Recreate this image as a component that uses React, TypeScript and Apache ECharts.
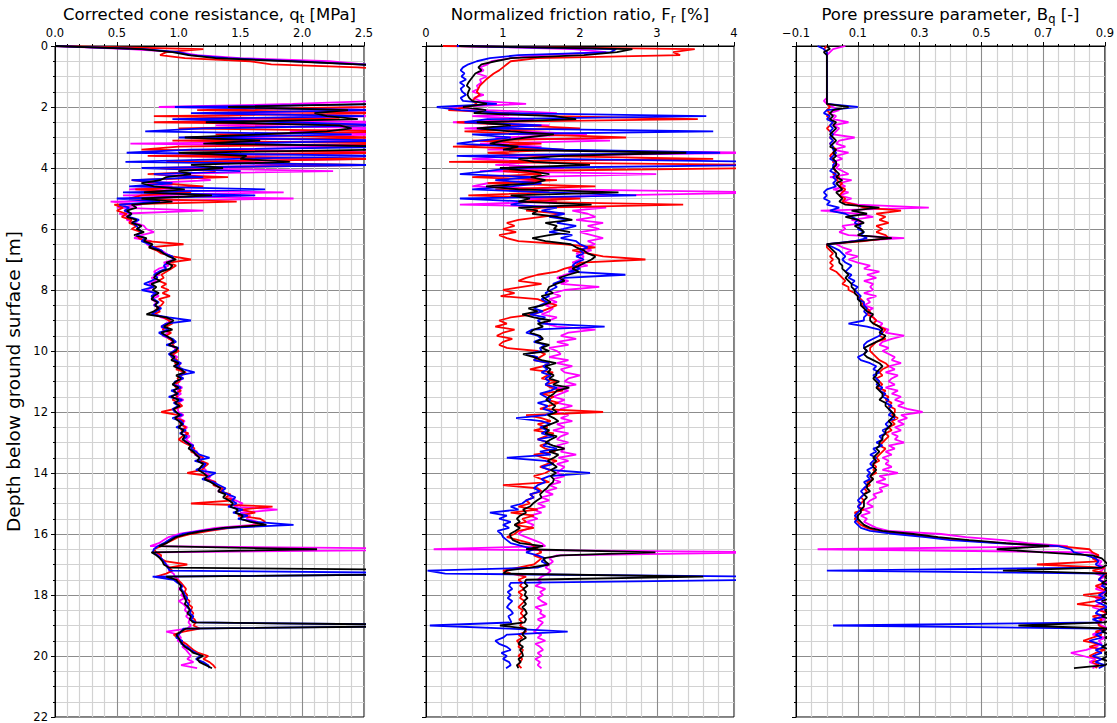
import React, { useEffect, useRef } from "react";
import * as echarts from "echarts";

// Every profile is sampled every 0.1 m, starting at the ground surface (0.0 m).
const DEPTH_STEP_M = 0.1;

// ---- Corrected cone resistance q_t [MPa] ----
const qtMagenta = [
  0.00, 0.60, 1.00, 1.15, 1.50, 2.22, 2.50, 2.90, 3.20, 3.30,
  3.40, 3.50, 3.50, 3.60, 3.60, 3.50, 3.40, 3.30, 2.60, 1.92,
  0.84, 2.80, 1.20, 2.60, 1.00, 2.80, 1.30, 2.70, 1.90, 2.80,
  1.10, 2.90, 0.61, 2.40, 1.30, 2.80, 0.80, 2.50, 1.20, 1.95,
  0.90, 2.25, 0.80, 1.10, 1.26, 0.75, 0.95, 0.60, 1.85, 0.55,
  1.93, 0.45, 0.70, 0.50, 1.20, 0.52, 0.60, 0.58, 0.65, 0.72,
  0.74, 0.80, 0.70, 0.64, 0.78, 0.74, 0.80, 0.86, 0.90, 0.94,
  0.96, 0.88, 0.92, 0.84, 0.80, 0.85, 0.78, 0.82, 0.76, 0.80,
  0.74, 0.80, 0.84, 0.78, 0.82, 0.80, 0.85, 0.80, 0.82, 0.86,
  0.94, 0.90, 0.86, 0.88, 0.92, 0.87, 0.93, 0.95, 0.93, 0.97,
  0.97, 0.95, 0.99, 0.96, 1.02, 0.98, 1.01, 1.04, 1.00, 1.03,
  1.00, 0.98, 1.03, 0.99, 1.02, 0.98, 1.04, 1.00, 1.02, 0.99,
  1.00, 1.04, 1.00, 1.05, 1.02, 1.07, 1.04, 1.06, 1.09, 1.06,
  1.09, 1.12, 1.10, 1.15, 1.13, 1.18, 1.16, 1.21, 1.19, 1.22,
  1.22, 1.26, 1.24, 1.30, 1.29, 1.34, 1.32, 1.40, 1.42, 1.46,
  1.52, 1.45, 1.80, 1.50, 1.58, 1.55, 1.64, 1.60, 1.30, 1.15,
  1.00, 0.92, 0.88, 0.84, 0.77, 3.50, 0.82, 0.84, 0.86, 0.88,
  0.90, 0.93, 0.92, 0.96, 0.97, 1.00, 1.01, 1.03, 1.00, 1.04,
  1.02, 1.05, 1.00, 1.04, 1.06, 1.05, 1.08, 1.06, 1.09, 1.08,
  1.10, 1.07, 0.90, 1.00, 1.02, 0.99, 1.05, 1.03, 1.06, 1.08,
  1.10, 1.07, 1.12, 1.02, 1.15,
];
const qtRed = [
  0.00, 1.20, 0.90, 0.85, 1.05, 1.58, 1.75, 2.45, 2.80, 3.10,
  3.30, 3.40, 3.50, 3.50, 3.60, 3.50, 3.40, 3.30, 3.00, 2.70,
  2.50, 1.15, 2.70, 0.80, 2.30, 0.80, 2.60, 1.00, 2.80, 1.30,
  2.70, 0.95, 2.90, 1.00, 0.70, 2.75, 0.75, 2.60, 0.90, 2.60,
  0.85, 1.30, 0.75, 1.40, 0.62, 0.85, 1.20, 0.65, 1.10, 0.70,
  0.60, 1.47, 0.48, 0.55, 0.50, 0.58, 0.54, 0.62, 0.60, 0.66,
  0.62, 0.70, 0.66, 0.68, 0.74, 1.04, 0.76, 0.82, 0.86, 0.95,
  1.10, 0.92, 0.98, 0.94, 0.90, 0.86, 0.88, 0.84, 0.90, 0.86,
  0.92, 0.87, 0.93, 0.84, 0.88, 0.86, 0.82, 0.85, 0.80, 0.88,
  0.92, 0.95, 0.90, 0.87, 0.94, 0.90, 0.92, 0.97, 0.95, 0.98,
  1.00, 0.96, 0.94, 0.99, 0.97, 1.01, 0.98, 1.06, 1.02, 0.99,
  1.01, 0.96, 0.98, 1.02, 0.97, 0.99, 0.95, 1.00, 1.03, 0.97,
  0.86, 1.00, 0.98, 1.04, 1.01, 1.06, 1.02, 1.08, 1.03, 1.00,
  1.04, 1.09, 1.13, 1.10, 1.16, 1.20, 1.18, 1.24, 1.21, 1.19,
  1.07, 1.25, 1.22, 1.30, 1.28, 1.36, 1.34, 1.42, 1.38, 1.45,
  1.10, 1.76, 1.50, 1.62, 1.48, 1.66, 1.70, 1.66, 1.42, 1.25,
  1.10, 1.00, 0.95, 0.90, 0.86, 0.80, 0.82, 0.86, 0.85, 0.90,
  1.07, 0.92, 0.95, 0.90, 0.82, 0.99, 1.02, 1.04, 1.06, 1.05,
  1.07, 1.06, 1.09, 1.08, 1.11, 1.10, 1.12, 1.10, 1.13, 1.14,
  1.12, 1.17, 1.04, 0.96, 0.99, 1.02, 1.06, 1.09, 1.12, 1.16,
  1.24, 1.20, 1.25, 1.28, 1.30,
];
const qtBlue = [
  0.00, 0.72, 1.00, 1.10, 1.40, 1.95, 2.45, 2.90, 3.20, 3.40,
  3.50, 3.60, 3.60, 3.70, 3.70, 3.60, 3.50, 3.40, 3.20, 2.80,
  0.97, 2.60, 1.10, 2.50, 0.95, 1.90, 2.70, 1.20, 0.73, 2.40,
  1.00, 2.80, 1.30, 2.90, 1.10, 0.58, 2.70, 1.45, 0.57, 2.60,
  0.70, 1.50, 0.80, 1.20, 0.62, 0.95, 0.60, 1.70, 0.55, 1.62,
  0.50, 0.85, 0.52, 0.60, 0.56, 0.62, 0.60, 0.68, 0.63, 0.66,
  0.68, 0.70, 0.66, 0.73, 0.70, 0.76, 0.80, 0.86, 0.88, 0.95,
  0.96, 0.92, 0.88, 0.90, 0.84, 0.80, 0.83, 0.78, 0.72, 0.80,
  0.70, 0.82, 0.78, 0.80, 0.84, 0.80, 0.86, 0.82, 0.78, 0.92,
  1.10, 0.90, 0.86, 0.92, 0.84, 0.88, 0.95, 0.98, 0.90, 1.00,
  0.96, 0.92, 0.95, 0.97, 1.02, 0.98, 1.04, 1.13, 1.00, 1.04,
  0.97, 0.96, 1.02, 0.94, 1.00, 0.92, 1.03, 0.96, 1.00, 0.95,
  0.97, 1.03, 0.95, 1.02, 1.04, 0.98, 1.06, 1.01, 1.07, 1.04,
  1.06, 1.12, 1.10, 1.14, 1.17, 1.25, 1.13, 1.22, 1.20, 1.14,
  1.30, 1.25, 1.19, 1.28, 1.33, 1.38, 1.35, 1.40, 1.46, 1.43,
  1.47, 1.40, 1.52, 1.44, 1.56, 1.48, 1.62, 1.93, 1.40, 1.18,
  1.03, 0.96, 0.92, 0.88, 0.83, 0.80, 0.79, 0.83, 0.86, 0.88,
  0.90, 0.91, 0.93, 3.50, 0.79, 0.96, 0.99, 1.03, 1.02, 1.04,
  1.05, 1.07, 1.06, 1.08, 1.07, 1.10, 1.09, 1.12, 1.10, 1.14,
  3.50, 1.04, 1.02, 1.00, 0.98, 1.03, 1.02, 1.07, 1.10, 1.14,
  1.18, 1.14, 1.20, 1.24, 1.25,
];
const qtBlack = [
  0.00, 0.70, 0.95, 1.08, 1.30, 1.90, 2.45, 2.90, 3.20, 3.40,
  3.50, 3.60, 3.60, 3.70, 3.70, 3.60, 3.50, 3.40, 3.10, 2.60,
  1.40, 2.37, 2.10, 2.20, 2.45, 1.22, 2.30, 2.40, 2.20, 1.66,
  1.05, 1.66, 1.20, 2.80, 2.60, 1.00, 1.55, 1.50, 1.90, 1.10,
  1.36, 1.00, 1.10, 0.90, 0.85, 0.70, 0.80, 1.05, 0.72, 1.27,
  0.70, 0.95, 0.62, 0.66, 0.58, 0.62, 0.58, 0.66, 0.62, 0.70,
  0.66, 0.72, 0.64, 0.74, 0.72, 0.79, 0.76, 0.84, 0.88, 0.92,
  0.98, 0.90, 0.95, 0.93, 0.86, 0.82, 0.80, 0.85, 0.78, 0.82,
  0.79, 0.84, 0.80, 0.78, 0.83, 0.81, 0.84, 0.80, 0.74, 0.90,
  0.96, 0.92, 0.88, 0.95, 0.86, 0.90, 0.94, 0.96, 0.92, 0.99,
  0.98, 0.93, 0.97, 0.94, 1.00, 0.96, 1.02, 1.05, 0.98, 1.02,
  0.98, 0.95, 1.00, 0.96, 0.99, 0.94, 1.00, 0.97, 1.01, 0.96,
  0.98, 1.01, 0.97, 1.00, 1.03, 1.00, 1.04, 1.02, 1.05, 1.03,
  1.07, 1.10, 1.08, 1.12, 1.14, 1.17, 1.15, 1.20, 1.18, 1.16,
  1.20, 1.23, 1.21, 1.26, 1.30, 1.34, 1.32, 1.38, 1.36, 1.41,
  1.44, 1.42, 1.48, 1.46, 1.52, 1.50, 1.58, 1.71, 1.36, 1.20,
  1.07, 0.98, 0.94, 0.90, 0.84, 2.12, 0.78, 0.82, 0.85, 0.87,
  0.88, 0.92, 3.50, 3.50, 0.90, 0.98, 1.00, 1.02, 1.01, 1.03,
  1.04, 1.05, 1.06, 1.05, 1.08, 1.09, 1.07, 1.10, 1.09, 1.12,
  3.50, 1.06, 1.02, 0.98, 1.00, 1.01, 1.03, 1.05, 1.09, 1.12,
  1.20, 1.15, 1.17, 1.22, 1.27,
];

// ---- Normalized friction ratio F_r [%] ----
const frMagenta = [
  0.40, 1.91, 2.34, 1.50, 1.10, 0.85, 0.80, 0.70, 0.75, 0.66,
  0.79, 0.70, 0.72, 0.66, 0.68, 0.60, 0.75, 0.62, 0.70, 1.30,
  0.30, 0.80, 1.70, 0.60, 1.40, 0.35, 1.60, 0.50, 1.30, 2.09,
  0.90, 2.39, 0.70, 1.50, 0.80, 4.50, 1.20, 0.60, 1.40, 0.90,
  1.80, 0.70, 2.99, 1.20, 1.50, 0.80, 0.60, 1.70, 4.50, 2.39,
  1.30, 1.70, 0.44, 2.34, 1.90, 2.10, 2.20, 1.95, 2.30, 2.10,
  2.25, 2.00, 2.15, 2.30, 2.10, 2.20, 2.05, 2.15, 1.95, 2.05,
  2.00, 1.90, 2.10, 1.85, 1.95, 1.80, 1.70, 1.85, 1.75, 2.25,
  1.80, 1.65, 1.75, 1.60, 1.70, 1.55, 1.65, 1.60, 1.50, 1.70,
  1.60, 1.55, 1.70, 2.20, 1.85, 1.75, 1.95, 1.70, 1.85, 1.60,
  1.70, 1.75, 1.60, 1.85, 1.70, 1.90, 1.75, 1.80, 2.00, 1.85,
  1.80, 1.95, 1.70, 1.85, 1.75, 1.65, 1.80, 1.70, 1.90, 1.75,
  1.70, 1.85, 1.75, 1.90, 1.70, 1.80, 1.65, 1.85, 1.75, 1.70,
  1.85, 1.70, 1.80, 1.75, 1.95, 1.72, 1.85, 1.70, 1.80, 1.75,
  1.70, 1.80, 1.65, 1.75, 1.60, 1.70, 1.55, 1.65, 1.50, 1.60,
  1.45, 1.55, 1.40, 1.50, 1.35, 1.45, 1.30, 1.40, 1.35, 1.25,
  1.20, 1.30, 1.40, 1.50, 1.55, 0.10, 4.50, 1.70, 1.60, 1.65,
  1.60, 1.55, 1.62, 1.58, 1.50, 1.45, 1.50, 1.42, 1.55, 1.48,
  1.52, 1.45, 1.50, 1.57, 1.42, 1.50, 1.48, 1.55, 1.45, 1.52,
  1.48, 1.45, 1.40, 1.50, 1.45, 1.55, 1.42, 1.48, 1.52, 1.45,
  1.50, 1.42, 1.48, 1.45, 1.50,
];
const frRed = [
  0.22, 3.49, 3.21, 3.30, 1.45, 1.10, 1.05, 1.00, 0.95, 0.88,
  0.83, 0.78, 0.74, 0.70, 0.68, 0.66, 0.70, 0.64, 0.60, 0.66,
  0.55, 0.29, 1.10, 1.70, 3.53, 0.40, 1.20, 2.00, 0.50, 1.40,
  2.60, 0.60, 1.50, 0.35, 1.80, 0.80, 1.40, 3.73, 0.30, 4.50,
  4.50, 1.00, 1.50, 0.60, 1.70, 0.80, 2.20, 0.90, 1.60, 0.55,
  2.00, 1.20, 3.34, 1.50, 1.30, 1.80, 1.50, 1.20, 1.05, 1.15,
  1.00, 1.17, 0.95, 1.05, 1.20, 1.80, 2.20, 1.90, 2.10, 2.30,
  2.85, 2.00, 1.95, 1.80, 1.70, 1.45, 1.30, 1.20, 1.50, 1.25,
  1.00, 1.15, 0.97, 1.45, 1.55, 1.70, 1.60, 1.50, 1.40, 1.10,
  0.95, 1.05, 0.90, 1.15, 1.00, 0.92, 1.12, 1.00, 0.95, 1.05,
  1.45, 1.55, 1.48, 1.40, 1.60, 1.52, 1.35, 1.65, 1.58, 1.50,
  1.70, 1.55, 1.62, 1.78, 1.50, 1.66, 1.58, 1.72, 1.60, 1.48,
  2.30, 1.30, 1.50, 1.62, 1.45, 1.58, 1.40, 1.66, 1.55, 1.45,
  1.60, 1.48, 1.55, 1.68, 1.40, 1.52, 1.70, 1.58, 1.48, 1.62,
  1.55, 1.40, 1.50, 1.60, 1.00, 1.45, 1.50, 1.35, 1.40, 1.30,
  1.35, 1.20, 1.45, 1.10, 1.40, 1.25, 1.30, 1.15, 1.40, 1.20,
  1.15, 1.05, 1.20, 1.35, 1.40, 1.45, 1.50, 1.40, 1.50, 1.45,
  1.40, 1.20, 1.00, 1.10, 1.30, 1.20, 1.25, 1.22, 1.28, 1.20,
  1.25, 1.22, 1.28, 1.24, 1.20, 1.26, 1.23, 1.27, 1.21, 1.25,
  1.22, 1.28, 1.30, 1.20, 1.25, 1.18, 1.22, 1.20, 1.26, 1.24,
  1.20, 1.25, 1.22, 1.20, 1.24,
];
const frBlue = [
  0.40, 2.47, 2.40, 1.20, 0.83, 0.66, 0.55, 0.48, 0.45, 0.50,
  0.46, 0.52, 0.44, 0.50, 0.45, 0.47, 0.52, 0.45, 0.48, 0.92,
  0.14, 0.45, 1.00, 3.64, 0.80, 0.50, 1.50, 0.70, 3.73, 0.60,
  1.10, 0.70, 0.40, 1.20, 1.79, 3.82, 0.40, 1.60, 4.50, 4.50,
  1.10, 0.80, 0.44, 1.40, 0.90, 1.50, 1.10, 0.60, 1.60, 2.73,
  0.44, 1.30, 1.10, 1.70, 1.50, 1.80, 1.60, 1.85, 1.70, 1.95,
  1.78, 1.60, 1.90, 1.75, 1.95, 2.00, 2.10, 2.00, 2.05, 1.95,
  2.05, 1.95, 1.90, 2.00, 1.85, 2.59, 1.80, 1.75, 1.65, 1.70,
  1.62, 1.55, 1.60, 1.50, 1.58, 1.48, 1.40, 1.52, 1.35, 1.55,
  1.45, 1.50, 2.32, 1.38, 1.30, 1.45, 1.50, 1.40, 1.55, 1.48,
  1.50, 1.30, 1.45, 1.40, 1.60, 1.52, 1.58, 1.50, 1.62, 1.55,
  1.60, 1.55, 1.70, 1.62, 1.48, 1.55, 1.62, 1.45, 1.58, 1.52,
  1.65, 1.55, 1.17, 1.50, 1.62, 1.48, 1.58, 1.50, 1.66, 1.45,
  1.60, 1.52, 1.70, 1.48, 1.62, 1.05, 1.55, 1.66, 1.50, 1.60,
  2.13, 1.60, 1.50, 1.55, 1.45, 1.40, 1.48, 1.35, 1.40, 1.30,
  1.25, 1.10, 1.20, 0.83, 1.05, 0.95, 1.10, 1.00, 1.08, 0.93,
  0.98, 1.00, 1.05, 1.10, 1.25, 1.40, 1.30, 1.45, 1.55, 1.50,
  1.58, 1.45, 0.02, 0.25, 4.50, 4.50, 1.10, 1.08, 1.12, 1.06,
  1.10, 1.06, 1.12, 1.08, 1.05, 1.10, 1.13, 1.07, 1.09, 1.11,
  0.05, 1.08, 1.84, 1.05, 1.00, 0.90, 0.95, 1.05, 1.10, 0.98,
  1.05, 1.00, 1.08, 1.10, 1.04,
];
const frBlack = [
  0.43, 2.68, 2.48, 2.05, 1.10, 0.90, 0.72, 0.68, 0.72, 0.64,
  0.61, 0.58, 0.55, 0.53, 0.57, 0.55, 0.54, 0.56, 0.60, 0.79,
  0.48, 0.78, 0.62, 1.66, 1.95, 0.66, 1.10, 0.66, 1.10, 1.66,
  1.30, 1.00, 0.83, 1.20, 1.00, 3.38, 1.78, 1.20, 1.40, 2.13,
  0.96, 1.35, 1.60, 1.36, 1.55, 1.40, 0.78, 1.20, 2.50, 1.10,
  1.35, 1.20, 2.15, 1.20, 1.45, 1.38, 1.70, 1.90, 1.55, 1.70,
  1.66, 1.87, 1.60, 1.38, 1.55, 1.88, 1.95, 2.05, 2.10, 2.20,
  2.15, 2.07, 1.99, 1.90, 1.99, 1.85, 1.73, 1.80, 1.69, 1.60,
  1.58, 1.65, 1.50, 1.56, 1.62, 1.52, 1.33, 1.45, 1.25, 1.40,
  1.62, 1.45, 1.52, 1.40, 1.35, 1.48, 1.52, 1.42, 1.60, 1.50,
  1.60, 1.26, 1.40, 1.50, 1.69, 1.55, 1.62, 1.58, 1.66, 1.60,
  1.73, 1.65, 1.86, 1.70, 1.66, 1.60, 1.56, 1.62, 1.68, 1.64,
  1.70, 1.58, 1.66, 1.72, 1.62, 1.52, 1.60, 1.55, 1.70, 1.62,
  1.55, 1.65, 1.80, 1.60, 1.72, 1.66, 1.58, 1.64, 1.70, 1.62,
  1.69, 1.62, 1.66, 1.65, 1.60, 1.57, 1.52, 1.48, 1.50, 1.44,
  1.39, 1.35, 1.26, 1.30, 1.22, 1.18, 1.22, 1.15, 1.22, 1.16,
  1.09, 1.10, 1.13, 1.22, 1.52, 1.30, 2.98, 1.75, 1.52, 1.55,
  1.60, 1.35, 1.05, 1.00, 3.60, 1.30, 1.28, 1.32, 1.26, 1.30,
  1.28, 1.32, 1.27, 1.30, 1.25, 1.29, 1.31, 1.27, 1.30, 1.28,
  0.96, 1.30, 1.28, 1.25, 1.30, 1.23, 1.20, 1.26, 1.22, 1.25,
  1.26, 1.20, 1.23, 1.18, 1.20,
];

// ---- Pore pressure parameter B_q [-] ----
const bqMagenta = [
  0.06, 0.02, 0.01, 0.00, 0.00, 0.00, 0.00, 0.00, 0.00, 0.00,
  0.00, 0.00, 0.00, 0.00, 0.00, 0.00, 0.00, 0.00, -0.01, 0.00,
  0.02, 0.04, 0.01, 0.03, 0.02, 0.07, 0.02, 0.04, 0.03, 0.02,
  0.09, 0.04, 0.03, 0.06, 0.02, 0.07, 0.03, 0.05, 0.02, 0.04,
  0.03, 0.05, 0.07, 0.01, 0.08, 0.04, 0.06, 0.02, 0.07, 0.04,
  0.08, 0.05, 0.10, 0.33, -0.02, 0.10, 0.15, 0.08, 0.12, 0.05,
  0.06, 0.04, 0.07, 0.25, 0.08, 0.03, 0.05, 0.08, 0.06, 0.10,
  0.07, 0.10, 0.14, 0.12, 0.17, 0.13, 0.16, 0.12, 0.15, 0.14,
  0.15, 0.12, 0.16, 0.13, 0.14, 0.12, 0.15, 0.13, 0.14, 0.15,
  0.16, 0.18, 0.17, 0.20, 0.19, 0.25, 0.21, 0.18, 0.17, 0.20,
  0.18, 0.20, 0.22, 0.21, 0.24, 0.20, 0.22, 0.19, 0.23, 0.21,
  0.20, 0.22, 0.19, 0.23, 0.21, 0.24, 0.22, 0.25, 0.23, 0.26,
  0.31, 0.24, 0.26, 0.23, 0.25, 0.22, 0.24, 0.21, 0.23, 0.22,
  0.25, 0.20, 0.22, 0.19, 0.21, 0.18, 0.20, 0.19, 0.21, 0.18,
  0.23, 0.17, 0.19, 0.16, 0.20, 0.17, 0.18, 0.15, 0.16, 0.14,
  0.13, 0.15, 0.12, 0.14, 0.11, 0.13, 0.12, 0.14, 0.16, 0.20,
  0.37, 0.45, 0.57, 0.65, 0.78, -0.03, 0.85, 0.88, 0.87, 0.89,
  0.88, 0.90, 0.89, 0.87, 0.90, 0.88, 0.91, 0.89, 0.87, 0.90,
  0.89, 0.87, 0.90, 0.88, 0.86, 0.89, 0.91, 0.88, 0.90, 0.87,
  0.89, 0.91, 0.88, 0.86, 0.90, 0.88, 0.89, 0.87, 0.84, 0.79,
  0.83, 0.87, 0.85, 0.88, 0.86,
];
const bqRed = [
  0.00, -0.01, 0.00, 0.00, 0.00, 0.00, 0.00, 0.00, 0.00, 0.00,
  0.00, 0.00, 0.00, 0.00, 0.00, 0.00, 0.00, 0.00, 0.00, 0.00,
  0.01, 0.00, 0.01, 0.00, 0.01, 0.02, 0.01, 0.00, 0.01, 0.02,
  0.01, 0.02, 0.01, 0.02, 0.03, 0.02, 0.01, 0.02, 0.02, 0.03,
  0.02, 0.03, 0.02, 0.04, 0.03, 0.05, 0.04, 0.06, 0.05, 0.04,
  0.06, 0.05, 0.09, 0.12, 0.24, 0.16, 0.19, 0.17, 0.20, 0.16,
  0.18, 0.16, 0.19, 0.20, 0.12, 0.00, 0.00, 0.01, 0.02, 0.01,
  0.02, 0.01, 0.02, 0.01, 0.03, 0.04, 0.05, 0.06, 0.05, 0.07,
  0.07, 0.09, 0.10, 0.11, 0.12, 0.11, 0.13, 0.14, 0.13, 0.15,
  0.16, 0.15, 0.17, 0.19, 0.18, 0.17, 0.19, 0.16, 0.15, 0.14,
  0.14, 0.15, 0.16, 0.17, 0.19, 0.20, 0.18, 0.17, 0.18, 0.16,
  0.17, 0.18, 0.16, 0.19, 0.18, 0.20, 0.19, 0.21, 0.20, 0.22,
  0.22, 0.21, 0.23, 0.21, 0.22, 0.20, 0.21, 0.19, 0.20, 0.19,
  0.18, 0.17, 0.19, 0.18, 0.17, 0.16, 0.17, 0.15, 0.16, 0.15,
  0.16, 0.14, 0.15, 0.13, 0.14, 0.12, 0.13, 0.12, 0.11, 0.12,
  0.11, 0.10, 0.12, 0.09, 0.10, 0.09, 0.10, 0.11, 0.13, 0.16,
  0.25, 0.34, 0.44, 0.56, 0.75, 0.85, 0.86, 0.88, 0.86, 0.88,
  0.68, 0.90, 0.86, 0.91, 0.89, 0.88, 0.90, 0.87, 0.89, 0.91,
  0.83, 0.89, 0.87, 0.81, 0.90, 0.88, 0.91, 0.86, 0.89, 0.88,
  0.88, 0.90, 0.87, 0.89, 0.86, 0.83, 0.88, 0.85, 0.90, 0.87,
  0.85, 0.89, 0.86, 0.88, 0.87,
];
const bqBlue = [
  -0.03, -0.01, 0.00, 0.00, 0.00, 0.00, 0.00, 0.00, 0.00, 0.00,
  0.00, 0.00, 0.00, 0.00, 0.00, 0.00, 0.00, 0.00, 0.00, 0.00,
  0.10, 0.00, -0.01, 0.01, 0.00, 0.02, 0.01, 0.02, 0.01, 0.02,
  0.01, 0.02, 0.01, 0.02, 0.02, 0.03, 0.02, 0.01, 0.03, 0.02,
  0.02, 0.01, 0.03, 0.02, 0.03, 0.02, 0.03, 0.00, -0.01, 0.00,
  -0.01, 0.01, 0.00, 0.04, 0.01, 0.06, 0.08, 0.10, 0.09, 0.11,
  0.10, 0.12, 0.11, 0.13, 0.09, 0.00, 0.02, 0.04, 0.05, 0.06,
  0.05, 0.06, 0.08, 0.07, 0.06, 0.08, 0.07, 0.09, 0.08, 0.10,
  0.09, 0.10, 0.11, 0.10, 0.12, 0.12, 0.13, 0.12, 0.13, 0.12,
  0.12, 0.07, 0.13, 0.17, 0.18, 0.17, 0.15, 0.13, 0.12, 0.12,
  0.13, 0.12, 0.10, 0.11, 0.14, 0.16, 0.15, 0.17, 0.15, 0.16,
  0.17, 0.16, 0.18, 0.17, 0.19, 0.18, 0.20, 0.19, 0.21, 0.20,
  0.21, 0.20, 0.22, 0.20, 0.19, 0.20, 0.18, 0.19, 0.17, 0.18,
  0.16, 0.18, 0.15, 0.16, 0.14, 0.16, 0.15, 0.14, 0.15, 0.13,
  0.14, 0.13, 0.14, 0.12, 0.13, 0.12, 0.11, 0.12, 0.11, 0.10,
  0.11, 0.10, 0.11, 0.10, 0.09, 0.10, 0.09, 0.10, 0.11, 0.14,
  0.22, 0.32, 0.40, 0.55, 0.75, 0.79, 0.80, 0.84, 0.87, 0.88,
  0.87, 0.89, 0.00, 0.90, 0.89, 0.88, 0.90, 0.89, 0.91, 0.90,
  0.88, 0.90, 0.87, 0.89, 0.91, 0.88, 0.87, 0.90, 0.86, 0.89,
  0.02, 0.88, 0.90, 0.87, 0.89, 0.85, 0.88, 0.90, 0.87, 0.89,
  0.86, 0.89, 0.87, 0.90, 0.88,
];
const bqBlack = [
  0.00, 0.01, -0.01, 0.00, 0.00, 0.00, 0.00, 0.00, 0.00, 0.00,
  0.00, 0.00, 0.00, 0.00, 0.00, 0.00, 0.00, 0.00, 0.00, 0.00,
  0.07, 0.02, 0.01, 0.02, 0.01, 0.03, 0.02, 0.03, 0.02, 0.01,
  0.02, 0.03, 0.02, 0.01, 0.03, 0.02, 0.03, 0.02, 0.03, 0.03,
  0.02, 0.03, 0.04, 0.03, 0.05, 0.03, 0.04, 0.05, 0.03, 0.04,
  0.05, 0.04, 0.06, 0.17, 0.08, 0.13, 0.06, 0.10, 0.12, 0.09,
  0.11, 0.12, 0.10, 0.21, 0.10, 0.00, 0.01, 0.02, 0.03, 0.03,
  0.04, 0.04, 0.05, 0.05, 0.06, 0.07, 0.06, 0.07, 0.08, 0.08,
  0.09, 0.09, 0.10, 0.10, 0.11, 0.11, 0.12, 0.13, 0.15, 0.14,
  0.14, 0.15, 0.17, 0.18, 0.17, 0.19, 0.18, 0.16, 0.14, 0.12,
  0.13, 0.12, 0.13, 0.15, 0.17, 0.18, 0.17, 0.16, 0.16, 0.15,
  0.16, 0.17, 0.16, 0.17, 0.18, 0.18, 0.17, 0.19, 0.19, 0.20,
  0.21, 0.22, 0.21, 0.20, 0.21, 0.20, 0.19, 0.19, 0.18, 0.18,
  0.17, 0.17, 0.16, 0.17, 0.16, 0.15, 0.16, 0.15, 0.15, 0.16,
  0.15, 0.14, 0.15, 0.14, 0.13, 0.13, 0.14, 0.12, 0.13, 0.12,
  0.12, 0.12, 0.11, 0.11, 0.10, 0.10, 0.11, 0.12, 0.14, 0.18,
  0.28, 0.36, 0.46, 0.58, 0.72, 0.55, 0.70, 0.86, 0.89, 0.90,
  0.91, 0.89, 0.57, 0.92, 0.90, 0.91, 0.89, 0.92, 0.90, 0.91,
  0.90, 0.92, 0.89, 0.91, 0.93, 0.90, 0.91, 0.89, 0.92, 0.90,
  0.62, 0.91, 0.89, 0.92, 0.90, 0.93, 0.91, 0.89, 0.92, 0.90,
  0.91, 0.89, 0.92, 0.90, 0.80,
];

// Depth axis ticks and limits [m]
const DEPTH_MIN = 0;
const DEPTH_MAX = 22;
const DEPTH_TICK = 2;

const SOUNDING_COLORS = ["#ff00ff", "#ff0000", "#0000ff", "#000000"];

const FONT = "DejaVu Sans";

type Panel = {
  title: [string, string, string]; // text before subscript, subscript, text after
  left: number;
  width: number;
  min: number;
  max: number;
  interval: number;
  minorSplit: number;
  decimals: number;
  profiles: number[][];
};

const PANELS: Panel[] = [
  {
    title: ["Corrected cone resistance, q", "t", " [MPa]"],
    left: 55, width: 309,
    min: 0, max: 2.5, interval: 0.5, minorSplit: 5, decimals: 1,
    profiles: [qtMagenta, qtRed, qtBlue, qtBlack],
  },
  {
    title: ["Normalized friction ratio, F", "r", " [%]"],
    left: 426, width: 308,
    min: 0, max: 4, interval: 1, minorSplit: 5, decimals: 0,
    profiles: [frMagenta, frRed, frBlue, frBlack],
  },
  {
    title: ["Pore pressure parameter, B", "q", " [-]"],
    left: 796, width: 309,
    min: -0.1, max: 0.9, interval: 0.2, minorSplit: 4, decimals: 1,
    profiles: [bqMagenta, bqRed, bqBlue, bqBlack],
  },
];

const PLOT_TOP = 46;
const PLOT_HEIGHT = 671;

function tickText(v: number, decimals: number): string {
  const s = Math.abs(v).toFixed(decimals);
  return v < -1e-9 ? "\u2212" + s : s;
}

function buildOption() {
  const majorGrid = { color: "#8c8c8c", width: 1.1 };
  const minorGrid = { color: "#d2d2d2", width: 1.2 };
  const axisBlack = { color: "#000", width: 1 };

  const grid = PANELS.map((p) => ({
    left: p.left,
    top: PLOT_TOP,
    width: p.width,
    height: PLOT_HEIGHT,
    show: true,
    borderColor: "#000",
    borderWidth: 1,
    backgroundColor: "transparent",
    containLabel: false,
  }));

  const xAxis = PANELS.map((p, i) => ({
    gridIndex: i,
    type: "value",
    position: "top",
    min: p.min,
    max: p.max,
    interval: p.interval,
    axisLine: { show: true, onZero: false, lineStyle: axisBlack },
    axisTick: { show: true, length: 4, lineStyle: axisBlack },
    minorTick: { show: true, splitNumber: p.minorSplit, length: 2, lineStyle: axisBlack },
    axisLabel: {
      show: true,
      margin: 7,
      color: "#000",
      fontSize: 11.5,
      fontFamily: FONT,
      formatter: (v: number) => tickText(v, p.decimals),
    },
    splitLine: { show: true, lineStyle: majorGrid },
    minorSplitLine: { show: true, lineStyle: minorGrid },
  }));

  const yAxis = PANELS.map((_, i) => ({
    gridIndex: i,
    type: "value",
    inverse: true,
    min: DEPTH_MIN,
    max: DEPTH_MAX,
    interval: DEPTH_TICK,
    name: i === 0 ? "Depth below ground surface [m]" : "",
    nameLocation: "middle",
    nameGap: 32,
    nameTextStyle: { color: "#000", fontSize: 18.5, fontFamily: FONT },
    axisLine: { show: true, onZero: false, lineStyle: axisBlack },
    axisTick: { show: true, length: 4, lineStyle: axisBlack },
    minorTick: { show: true, splitNumber: 4, length: 2, lineStyle: axisBlack },
    axisLabel: {
      show: i === 0,
      margin: 7,
      color: "#000",
      fontSize: 11.5,
      fontFamily: FONT,
    },
    splitLine: { show: true, lineStyle: majorGrid },
    minorSplitLine: { show: true, lineStyle: minorGrid },
  }));

  const series: any[] = [];
  PANELS.forEach((p, i) => {
    p.profiles.forEach((values, k) => {
      series.push({
        type: "line",
        xAxisIndex: i,
        yAxisIndex: i,
        data: values.map((v, n) => [v, +(n * DEPTH_STEP_M).toFixed(1)]),
        symbol: "none",
        showSymbol: false,
        clip: true,
        silent: true,
        z: 2 + k,
        lineStyle: { color: SOUNDING_COLORS[k], width: 1.8 },
        itemStyle: { color: SOUNDING_COLORS[k] },
      });
    });
  });

  // Panel titles; the subscript sits on the bottom of a taller line box so it drops below the baseline.
  const graphic = PANELS.map((p) => ({
    type: "text",
    x: p.left + p.width / 2,
    y: 14,
    silent: true,
    style: {
      text: `{n|${p.title[0]}}{s|${p.title[1]}}{n|${p.title[2]}}`,
      align: "center",
      verticalAlign: "middle",
      fill: "#000",
      rich: {
        n: { fontSize: 16.5, fontFamily: FONT, fill: "#000", lineHeight: 16, verticalAlign: "middle" },
        s: { fontSize: 11.5, fontFamily: FONT, fill: "#000", lineHeight: 22, verticalAlign: "bottom" },
      },
    },
  }));

  return {
    animation: false,
    backgroundColor: "#fff",
    grid,
    xAxis,
    yAxis,
    series,
    graphic,
  };
}

export default function App() {
  const ref = useRef<HTMLDivElement>(null);
  useEffect(() => {
    if (!ref.current) return;
    const chart = echarts.init(ref.current, null, { renderer: "svg" });
    chart.setOption(buildOption() as any);
    return () => chart.dispose();
  }, []);
  return (
    <div
      ref={ref}
      style={{ position: "fixed", left: 0, top: 0, width: 1117, height: 723, background: "#fff" }}
    />
  );
}
